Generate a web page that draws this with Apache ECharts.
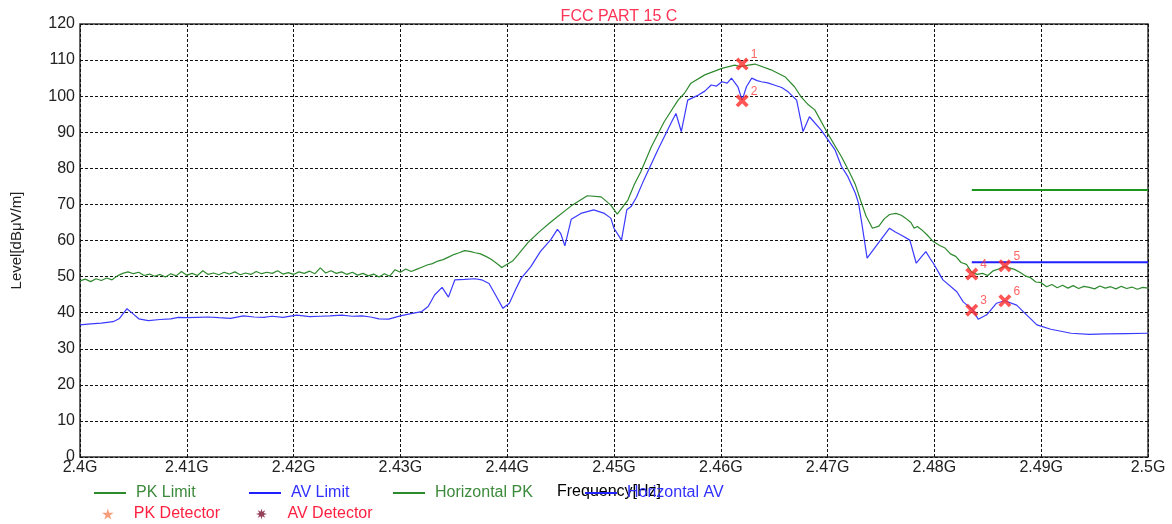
<!DOCTYPE html>
<html>
<head>
<meta charset="utf-8">
<script src="https://cdn.jsdelivr.net/npm/echarts@6/dist/echarts.min.js"></script>
<style>
html,body{margin:0;padding:0;background:#fff;}
#chart{width:1172px;height:524px;}
</style>
</head>
<body>
<div id="chart"></div>
<script>
const titleText = 'FCC PART 15 C';
const xTickLabels = ['2.4G','2.41G','2.42G','2.43G','2.44G','2.45G','2.46G','2.47G','2.48G','2.49G','2.5G'];

const pkLimit = [[2.4835, 74], [2.5, 74]];
const avLimit = [[2.4835, 54], [2.5, 54]];

const horizontalPK = [
[2.4000,48.8],[2.4005,49.3],[2.4010,48.6],[2.4015,49.4],[2.4020,48.9],[2.4025,49.6],[2.4030,49.1],[2.4035,50.2],
[2.4040,50.9],[2.4045,51.3],[2.4050,50.8],[2.4055,51.2],[2.4060,50.3],[2.4065,50.7],[2.4070,50.1],[2.4075,50.6],
[2.4080,49.9],[2.4085,50.8],[2.4090,50.2],[2.4095,51.4],[2.4100,50.4],[2.4105,50.9],[2.4110,50.3],[2.4115,51.6],
[2.4120,50.6],[2.4125,51.0],[2.4130,50.5],[2.4135,51.2],[2.4140,50.7],[2.4145,51.3],[2.4150,50.5],[2.4155,51.0],
[2.4160,50.6],[2.4165,51.4],[2.4170,50.8],[2.4175,51.2],[2.4180,50.9],[2.4185,51.6],[2.4190,50.7],[2.4195,51.1],
[2.4200,50.6],[2.4205,51.3],[2.4210,50.9],[2.4215,51.5],[2.4220,50.8],[2.4225,52.4],[2.4230,51.0],[2.4235,51.6],
[2.4240,50.9],[2.4245,51.3],[2.4250,50.6],[2.4255,51.2],[2.4260,50.4],[2.4265,50.9],[2.4270,50.2],[2.4275,50.7],
[2.4280,49.9],[2.4285,50.8],[2.4290,50.1],[2.4295,51.9],[2.4300,51.2],[2.4305,52.1],[2.4310,51.4],[2.4315,52.0],
[2.4320,52.6],[2.4325,53.2],[2.4330,53.6],[2.4335,54.3],[2.4340,54.7],[2.4345,55.4],[2.4350,56.1],[2.4355,56.6],
[2.4360,57.2],[2.4365,57.0],[2.4370,56.6],[2.4375,56.3],[2.4380,55.6],[2.4385,54.8],[2.4390,53.7],[2.4395,52.5],
[2.4400,53.4],[2.4405,54.3],[2.4410,56.0],[2.4420,59.6],[2.4430,62.4],[2.4440,64.9],[2.4447,66.6],[2.4460,69.6],
[2.4475,72.4],[2.4488,72.1],[2.4497,69.8],[2.4503,67.3],[2.4513,71.2],[2.4519,75.5],[2.4525,79.0],[2.4535,86.0],
[2.4547,92.9],[2.4560,98.9],[2.4566,100.8],[2.4572,103.6],[2.4585,105.9],[2.4601,107.7],[2.4613,108.6],[2.4618,108.2],
[2.4626,108.6],[2.4632,108.9],[2.4647,107.3],[2.4660,105.4],[2.4669,102.6],[2.4675,99.9],[2.4682,97.6],[2.4688,96.2],
[2.4700,89.7],[2.4713,83.2],[2.4720,79.2],[2.4726,75.5],[2.4731,71.0],[2.4736,66.8],[2.4742,63.4],[2.4748,64.0],
[2.4753,66.0],[2.4758,67.2],[2.4764,67.5],[2.4769,67.0],[2.4773,66.2],[2.4778,65.0],[2.4781,63.4],[2.4784,63.9],
[2.4788,63.0],[2.4793,61.6],[2.4799,59.7],[2.4805,58.6],[2.4810,57.9],[2.4815,56.3],[2.4820,55.6],[2.4825,53.9],
[2.4830,53.4],[2.4835,51.2],[2.4840,50.6],[2.4845,50.9],[2.4850,50.3],[2.4855,51.6],[2.4860,52.1],[2.4866,52.9],
[2.4870,52.4],[2.4875,52.0],[2.4880,51.2],[2.4885,50.2],[2.4890,49.7],[2.4895,48.5],[2.4900,48.3],[2.4905,47.2],
[2.4910,47.8],[2.4915,46.9],[2.4920,47.6],[2.4925,46.8],[2.4930,47.5],[2.4935,46.7],[2.4940,47.3],[2.4945,47.0],
[2.4950,46.6],[2.4955,47.4],[2.4960,46.8],[2.4965,47.2],[2.4970,46.6],[2.4975,47.3],[2.4980,46.7],[2.4985,47.1],
[2.4990,46.5],[2.4995,47.0],[2.5000,46.8]
];

const horizontalAV = [
[2.4000,36.6],[2.4010,36.9],[2.4020,37.1],[2.4031,37.5],[2.4037,38.4],[2.4044,41.1],[2.4050,39.6],[2.4055,38.3],
[2.4064,37.8],[2.4075,38.1],[2.4085,38.3],[2.4092,38.7],[2.4100,38.6],[2.4110,38.7],[2.4120,38.8],[2.4130,38.6],
[2.4141,38.4],[2.4153,39.1],[2.4163,38.8],[2.4172,38.7],[2.4180,39.0],[2.4190,38.7],[2.4203,39.3],[2.4215,38.9],
[2.4225,39.0],[2.4234,39.1],[2.4245,39.3],[2.4255,39.0],[2.4264,39.1],[2.4272,38.8],[2.4280,38.3],[2.4289,38.2],
[2.4300,39.1],[2.4311,39.8],[2.4320,40.3],[2.4326,41.7],[2.4332,44.9],[2.4339,47.0],[2.4345,44.3],[2.4351,49.1],
[2.4360,49.2],[2.4370,49.4],[2.4376,49.1],[2.4383,48.1],[2.4390,44.4],[2.4396,41.2],[2.4402,42.6],[2.4408,46.5],
[2.4413,49.5],[2.4422,52.7],[2.4431,56.9],[2.4441,60.3],[2.4447,63.1],[2.4450,62.0],[2.4454,58.5],[2.4460,65.9],
[2.4469,67.5],[2.4481,68.5],[2.4491,67.5],[2.4497,66.2],[2.4500,63.4],[2.4507,60.1],[2.4512,68.5],[2.4516,69.4],
[2.4521,72.0],[2.4528,76.8],[2.4541,85.1],[2.4554,92.9],[2.4558,95.2],[2.4563,90.2],[2.4569,98.9],[2.4579,100.3],
[2.4585,101.4],[2.4591,103.1],[2.4596,102.8],[2.4601,104.0],[2.4606,103.6],[2.4610,105.0],[2.4616,102.6],[2.4620,98.9],
[2.4624,102.6],[2.4629,105.0],[2.4634,104.3],[2.4638,104.0],[2.4644,103.7],[2.4650,103.1],[2.4657,102.4],[2.4663,101.2],
[2.4671,98.9],[2.4677,90.2],[2.4683,94.3],[2.4694,90.6],[2.4707,85.1],[2.4713,80.5],[2.4719,77.7],[2.4726,73.1],
[2.4729,70.3],[2.4732,64.8],[2.4737,55.1],[2.4745,58.3],[2.4758,63.4],[2.4763,62.4],[2.4770,61.3],[2.4777,60.1],
[2.4783,53.7],[2.4788,55.5],[2.4792,56.9],[2.4796,55.0],[2.4799,53.7],[2.4808,49.1],[2.4821,45.8],[2.4827,43.0],
[2.4836,40.7],[2.4841,38.2],[2.4849,39.4],[2.4858,42.6],[2.4866,43.3],[2.4877,42.1],[2.4888,38.9],[2.4896,36.6],
[2.4909,35.4],[2.4928,34.3],[2.4945,34.0],[2.4960,34.1],[2.4980,34.2],[2.5000,34.3]
];

const pkDetectorFreq = [2.4620, 2.4835, 2.4866];
const pkDetectorLevel = [108.9, 50.7, 53.0];
const pkDetectorLabel = ['1', '4', '5'];
const avDetectorFreq = [2.4620, 2.4835, 2.4866];
const avDetectorLevel = [98.7, 40.7, 43.3];
const avDetectorLabel = ['2', '3', '6'];

const FONT = '"Liberation Sans", Arial, sans-serif';
const XPATH = 'path://M0,20 L20,0 L50,30 L80,0 L100,20 L70,50 L100,80 L80,100 L50,70 L20,100 L0,80 L30,50 Z';
const STAR = 'path://M50,0 L61,35 L98,35 L68,57 L79,91 L50,70 L21,91 L32,57 L2,35 L39,35 Z';
const BURST = 'path://M50,0 L58,30 L85,15 L70,42 L100,50 L70,58 L85,85 L58,70 L50,100 L42,70 L15,85 L30,58 L0,50 L30,42 L15,15 L42,30 Z';

function markerData(fs, ls, labels) {
  return fs.map((f, i) => ({ value: [f, ls[i]], name: labels[i] }));
}

const chart = echarts.init(document.getElementById('chart'), null, { renderer: 'canvas' });

function legendItem(name, left, top, color, iconColor, icon) {
  const d = { name: name, textStyle: { color: color }, icon: icon || 'rect',
              itemStyle: { color: iconColor, borderWidth: 0, borderColor: iconColor } };
  return {
    data: [d], left: left, top: top, orient: 'horizontal',
    itemWidth: 32, itemHeight: icon ? 11 : 2, itemGap: 0, padding: 0,
    selectedMode: false,
    textStyle: { fontFamily: FONT, fontSize: 16, color: color, padding: [0, 0, 0, 5] }
  };
}

const option = {
  animation: false,
  backgroundColor: '#fff',
  title: {
    text: titleText, left: 614, top: 4, textAlign: 'center',
    textStyle: { color: '#ff3355', fontFamily: FONT, fontSize: 16, fontWeight: 'normal' }
  },
  legend: [
    legendItem('PK Limit', 94, 485, '#3c8a3c', '#2a8c2a'),
    legendItem('AV Limit', 249, 485, '#3030ff', '#2020ff'),
    legendItem('Horizontal PK', 393, 485, '#3c8a3c', '#2a8c2a'),
    legendItem('Horizontal AV', 585, 485, '#3030ff', '#2020ff'),
    legendItem('PK Detector', 102, 506, '#ff2040', '#f4865a', STAR),
    legendItem('AV Detector', 256, 506, '#ff2040', '#7a1030', BURST)
  ],
  grid: {
    left: 80, right: 24, top: 24, bottom: 67,
    show: true, borderColor: '#333', borderWidth: 1.5, backgroundColor: 'transparent'
  },
  xAxis: {
    type: 'value', min: 2.4, max: 2.5, interval: 0.01,
    name: 'Frequency[Hz]', nameLocation: 'middle', nameGap: 27,
    nameTextStyle: { color: '#000', fontFamily: FONT, fontSize: 16, padding: [0, 10, 0, 0] },
    axisLine: { show: false }, axisTick: { show: false },
    axisLabel: {
      color: '#222', fontFamily: FONT, fontSize: 16, margin: 3,
      showMinLabel: true, showMaxLabel: true,
      formatter: v => xTickLabels[Math.round((v - 2.4) / 0.01)]
    },
    splitLine: { show: true, lineStyle: { color: '#111', type: [3, 2], width: 1 } }
  },
  yAxis: {
    type: 'value', min: 0, max: 120, interval: 10,
    name: 'Level[dBμV/m]', nameLocation: 'middle', nameGap: 56, nameRotate: 90,
    nameTextStyle: { color: '#222', fontFamily: FONT, fontSize: 15 },
    axisLine: { show: false }, axisTick: { show: false },
    axisLabel: { color: '#222', fontFamily: FONT, fontSize: 16, margin: 5 },
    splitLine: { show: true, lineStyle: { color: '#111', type: [3, 2], width: 1 } }
  },
  series: [
    { name: 'PK Limit', type: 'line', data: pkLimit, symbol: 'none', lineStyle: { color: '#1e961e', width: 2 }, itemStyle: { color: '#1e961e' }, z: 3 },
    { name: 'AV Limit', type: 'line', data: avLimit, symbol: 'none', lineStyle: { color: '#1f1fff', width: 2 }, itemStyle: { color: '#1f1fff' }, z: 3 },
    { name: 'Horizontal PK', type: 'line', data: horizontalPK, symbol: 'none', lineStyle: { color: '#2f8a2f', width: 1.2 }, itemStyle: { color: '#2f8a2f' }, z: 4 },
    { name: 'Horizontal AV', type: 'line', data: horizontalAV, symbol: 'none', lineStyle: { color: '#3a3aff', width: 1.2 }, itemStyle: { color: '#3a3aff' }, z: 4 },
    { name: 'PK Detector', type: 'scatter', data: markerData(pkDetectorFreq, pkDetectorLevel, pkDetectorLabel),
      symbol: XPATH, symbolSize: 13, itemStyle: { color: '#ff2a2a' }, z: 6,
      label: { show: true, position: 'right', distance: 2, offset: [0, -9], formatter: p => p.name, color: '#ff3b3b', fontFamily: FONT, fontSize: 12 } },
    { name: 'AV Detector', type: 'scatter', data: markerData(avDetectorFreq, avDetectorLevel, avDetectorLabel),
      symbol: XPATH, symbolSize: 13, itemStyle: { color: '#ff2a2a' }, z: 6,
      label: { show: true, position: 'right', distance: 2, offset: [0, -9], formatter: p => p.name, color: '#ff3b3b', fontFamily: FONT, fontSize: 12 } }
  ]
};
chart.setOption(option);
</script>
</body>
</html>
